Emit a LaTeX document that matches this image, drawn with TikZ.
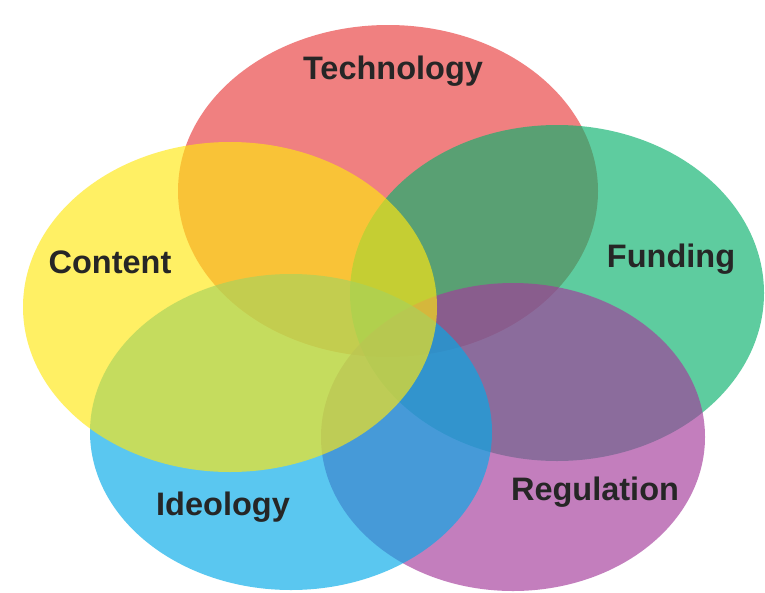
\documentclass[tikz,border=0pt]{standalone}
\usepackage{fontspec}
\setmainfont{Liberation Sans}
\definecolor{techc}{RGB}{232,60,60}
\definecolor{fundc}{RGB}{9,178,109}
\definecolor{contc}{RGB}{255,232,17}
\definecolor{ideoc}{RGB}{3,170,232}
\definecolor{regc}{RGB}{164,58,155}
\definecolor{labelc}{RGB}{38,38,38}
\begin{document}
\begin{tikzpicture}[x=1pt,y=-1pt,
  blob/.style={fill opacity=0.65, draw=none},
  lbl/.style={anchor=base, text=labelc, font=\fontsize{32.5}{36}\selectfont\bfseries, inner sep=0pt}]
\useasboundingbox[fill=white] (0,0) rectangle (765,592);
\fill[blob, techc] (388,191) ellipse [x radius=210, y radius=166];
\fill[blob, fundc] (557,293) ellipse [x radius=207, y radius=168];
\fill[blob, regc]  (513,437) ellipse [x radius=192, y radius=154];
\fill[blob, ideoc] (291,432) ellipse [x radius=201, y radius=158];
\fill[blob, contc] (230,307) ellipse [x radius=207, y radius=165];
\node[lbl] (tech) at (393,79) {Technology};
\node[lbl] (cont) at (110,273) {Content};
\node[lbl] (fund) at (671,267) {Funding};
\node[lbl] (ideo) at (223,515) {Ideology};
\node[lbl] (reg)  at (595,500) {Regulation};
\end{tikzpicture}
\end{document}
